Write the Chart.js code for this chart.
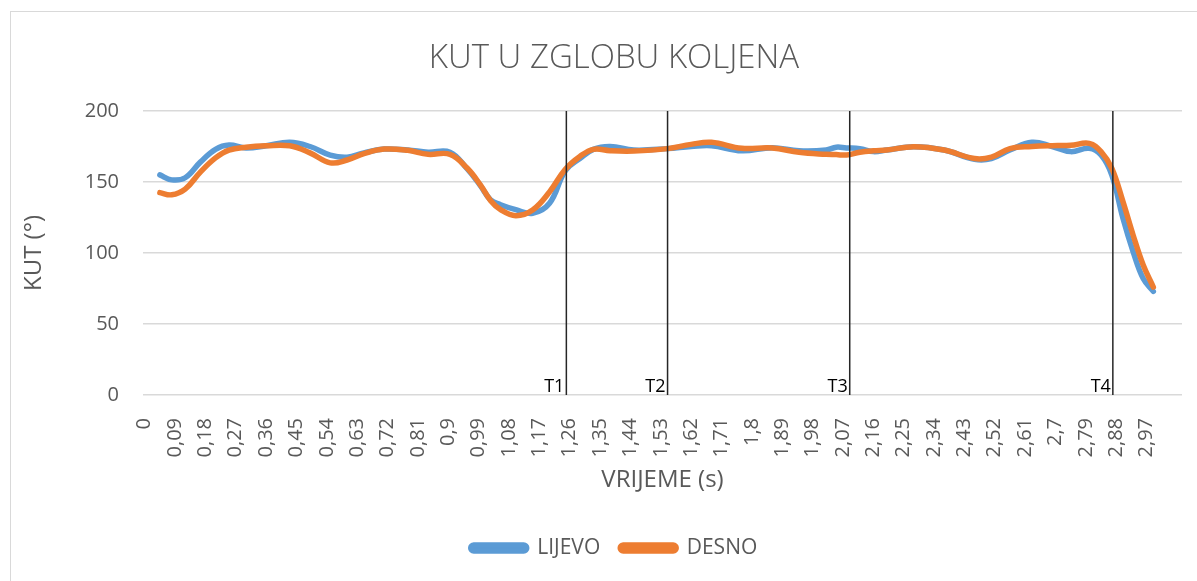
<!DOCTYPE html>
<html>
<head>
<meta charset="utf-8">
<script src="https://cdn.jsdelivr.net/npm/chart.js@4/dist/chart.umd.min.js"></script>
<style>
  html, body { margin: 0; padding: 0; overflow: hidden; background: #ffffff; width: 1197px; height: 581px; }
  #frame { position: absolute; left: 10px; top: 11px; width: 1300px; height: 700px; border: 1px solid #d9d9d9; }
  #chart { position: absolute; left: 0; top: 0; }
</style>
</head>
<body>
<div id="frame"></div>
<canvas id="chart" width="1228" height="581"></canvas>
<script>
// Knee joint angle over time, left and right leg (s, degrees)
const TIME = [0.045, 0.08, 0.12, 0.165, 0.21, 0.25, 0.30, 0.36, 0.43, 0.49, 0.55, 0.60, 0.65, 0.71, 0.78, 0.84,
  0.905, 0.955, 0.995, 1.025, 1.055, 1.10, 1.15, 1.20, 1.247, 1.29, 1.33, 1.38, 1.45, 1.55, 1.62, 1.68, 1.77,
  1.86, 1.94, 2.02, 2.05, 2.08, 2.12, 2.16, 2.20, 2.28, 2.37, 2.46, 2.51, 2.565, 2.63, 2.69, 2.745, 2.80,
  2.835, 2.867, 2.90, 2.93, 2.96, 2.99];

const LIJEVO = [155, 151.5, 153, 164, 173, 176, 174, 175.5, 178, 175, 169, 167.5, 170.5, 173.2, 172.5, 171,
  171, 159.5, 147.5, 137.5, 134, 130.5, 128, 135, 158, 166.5, 173, 175, 172.5, 173.5, 175, 175.6, 172,
  174.2, 172, 172.5, 174.5, 174, 173.5, 171.4, 172.5, 174.9, 172.5, 166, 166.5, 172.5, 178, 175, 171.4, 173.7,
  169, 154.9, 124.4, 101, 82, 73];

const DESNO = [142.5, 141, 145, 157, 167, 172.5, 174.5, 175.5, 175.5, 170.5, 163.5, 165.5, 170, 173.2, 172.3, 169.5,
  169.5, 160, 148, 137, 130.5, 126.3, 130.3, 143, 159, 168, 173, 172, 171.8, 173.5, 176.5, 178, 173.7,
  174, 170.9, 169.5, 169.3, 169, 171, 172, 172.5, 174.9, 172.5, 166.5, 167.5, 173.5, 175, 175.6, 175.8, 177.2,
  171.4, 159.6, 136.2, 112.7, 91.5, 76];

// Phase markers
const MARKER_TIMES = [1.25, 1.55, 2.09, 2.87];
const MARKER_LABELS = ['T1', 'T2', 'T3', 'T4'];

// Axis ticks
const X_TICKS = [0, 0.09, 0.18, 0.27, 0.36, 0.45, 0.54, 0.63, 0.72, 0.81, 0.9, 0.99, 1.08, 1.17, 1.26, 1.35,
  1.44, 1.53, 1.62, 1.71, 1.8, 1.89, 1.98, 2.07, 2.16, 2.25, 2.34, 2.43, 2.52, 2.61, 2.7, 2.79, 2.88, 2.97];
const Y_TICKS = [0, 50, 100, 150, 200];

const FONT = "'Open Sans', 'Noto Sans', sans-serif";
const TEXT = '#595959';
const GRID = '#d9d9d9';

const toPoints = (vals) => TIME.map((t, i) => ({ x: t, y: vals[i] }));

const markerSets = MARKER_TIMES.map((t, i) => ({
  label: MARKER_LABELS[i],
  data: [{ x: t, y: Y_TICKS[0] }, { x: t, y: Y_TICKS[Y_TICKS.length - 1] }],
  borderColor: '#262626',
  borderWidth: 1.5,
  pointRadius: 0,
  tension: 0,
  order: 0,
  isMarker: true
}));

const markerLabels = {
  id: 'markerLabels',
  afterDatasetsDraw(chart) {
    const { ctx, scales: { x, y } } = chart;
    ctx.save();
    ctx.font = "18px " + FONT;
    ctx.fillStyle = '#000000';
    ctx.textAlign = 'right';
    ctx.textBaseline = 'alphabetic';
    MARKER_TIMES.forEach((t, i) => {
      ctx.fillText(MARKER_LABELS[i], x.getPixelForValue(t) - 2, y.getPixelForValue(0) - 3);
    });
    ctx.restore();
  }
};

new Chart(document.getElementById('chart'), {
  type: 'line',
  data: {
    datasets: [
      {
        label: 'LIJEVO',
        data: toPoints(LIJEVO),
        borderColor: '#5B9BD5',
        backgroundColor: '#5B9BD5',
        borderWidth: 5.5,
        borderCapStyle: 'round',
        borderJoinStyle: 'round',
        pointRadius: 0,
        tension: 0.4,
        order: 2
      },
      {
        label: 'DESNO',
        data: toPoints(DESNO),
        borderColor: '#ED7D31',
        backgroundColor: '#ED7D31',
        borderWidth: 5.5,
        borderCapStyle: 'round',
        borderJoinStyle: 'round',
        pointRadius: 0,
        tension: 0.4,
        order: 1
      },
      ...markerSets
    ]
  },
  options: {
    responsive: false,
    animation: false,
    devicePixelRatio: 1,
    layout: { padding: { left: 12, right: 12, top: 0, bottom: 12.5 } },
    plugins: {
      tooltip: { enabled: false },
      title: {
        display: true,
        text: 'KUT U ZGLOBU KOLJENA',
        color: TEXT,
        font: { family: FONT, size: 33, weight: '300', lineHeight: 1.2 },
        padding: { top: 38.5, bottom: 32.9 }
      },
      legend: {
        position: 'bottom',
        labels: {
          color: TEXT,
          font: { family: FONT, size: 21 },
          boxWidth: 56,
          boxHeight: 6,
          useBorderRadius: true,
          borderRadius: 3,
          padding: 20,
          filter: (item, data) => !data.datasets[item.datasetIndex].isMarker,
          sort: (a, b) => a.datasetIndex - b.datasetIndex
        }
      }
    },
    scales: {
      x: {
        type: 'linear',
        min: -0.005,
        max: 3.075,
        grid: { display: false },
        border: { display: false },
        afterBuildTicks: (axis) => { axis.ticks = X_TICKS.map(v => ({ value: v })); },
        afterFit: (axis) => { axis.height = 122.5; },
        ticks: {
          autoSkip: false,
          minRotation: 90,
          maxRotation: 90,
          padding: 15,
          color: TEXT,
          font: { family: FONT, size: 20 },
          callback: (v) => String(v).replace('.', ',')
        },
        title: {
          display: true,
          text: 'VRIJEME (s)',
          color: TEXT,
          font: { family: FONT, size: 24 },
          padding: { top: 0, bottom: 23 }
        }
      },
      y: {
        min: 0,
        max: 200,
        afterBuildTicks: (axis) => { axis.ticks = Y_TICKS.map(v => ({ value: v })); },
        afterFit: (axis) => { axis.width = 131; },
        grid: { color: GRID, lineWidth: 1.5, drawTicks: false },
        border: { display: false },
        ticks: { padding: 24, color: TEXT, font: { family: FONT, size: 20 } },
        title: {
          display: true,
          text: 'KUT (°)',
          color: TEXT,
          font: { family: FONT, size: 24 },
          padding: { top: 7.6, bottom: 0 }
        }
      },
      yRight: {
        position: 'right',
        grid: { display: false },
        border: { display: false },
        ticks: { display: false },
        afterFit: (axis) => { axis.width = 34; }
      }
    }
  },
  plugins: [markerLabels]
});
</script>
</body>
</html>
